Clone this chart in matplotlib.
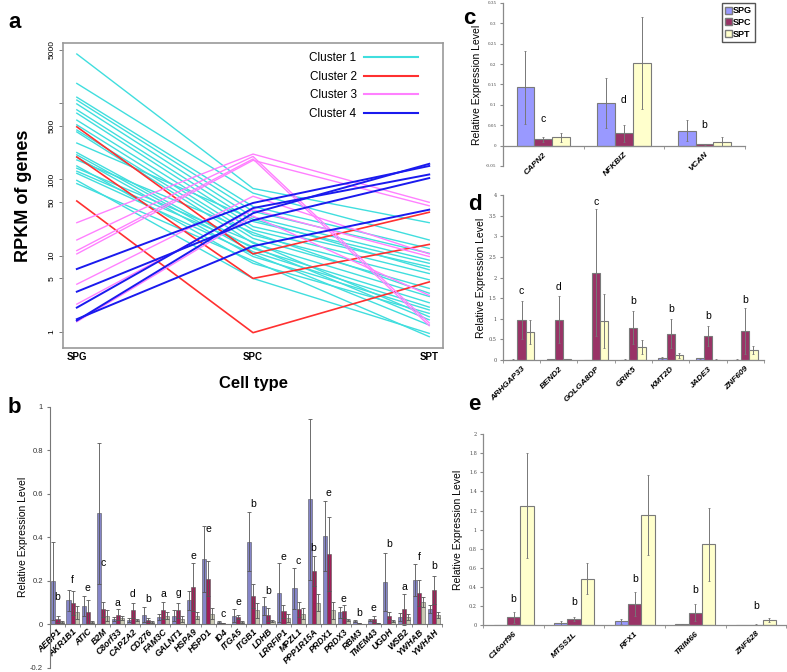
import numpy as np
import matplotlib
matplotlib.use("Agg")
import matplotlib.pyplot as plt
from matplotlib.lines import Line2D
from matplotlib.patches import Patch
from matplotlib.ticker import NullLocator

plt.rcParams['font.family'] = ['Liberation Sans', 'DejaVu Sans']

# ---- panel a: RPKM per cluster (SPG, SPC, SPT) ----
cell_types = ['SPG', 'SPC', 'SPT']
c1_spg = [4430, 1820, 1200, 1100, 980, 820, 740, 600, 520, 445, 420, 300, 225, 210, 195, 180, 150, 140, 128, 120, 97, 88]
c1_spc = [76, 66, 44, 38, 32, 28, 24, 21.6, 18.6, 16.8, 14.5, 30, 12.4, 11.2, 9.7, 20, 7.9, 15, 13, 10.5, 5.0, 8.5]
c1_spt = [27, 16, 12.4, 10.7, 8.7, 7.9, 7.1, 5.8, 4.8, 3.7, 2.9, 6.5, 2.4, 2.1, 1.93, 3.2, 1.74, 1.57, 1.43, 1.22, 0.95, 0.86]
c2_spg = [490, 197, 52]
c2_spc = [10.5, 5.0, 0.97]
c2_spt = [37, 14, 4.5]
c3_spg = [27, 16, 11.6, 10.5, 4.2, 2.3, 1.35]
c3_spc = [215, 200, 185, 178, 60, 40, 33]
c3_spt = [50, 1.3, 1.2, 45, 10.5, 9.7, 3.0]
c4_spg = [6.65, 3.35, 2.07, 1.40, 1.46]
c4_spc = [49, 29, 42, 36, 13.3]
c4_spt = [150, 104, 116, 160, 40]

# ---- panel b ----
genes_b = ['AEBP1', 'AKR1B1', 'ATIC', 'B2M', 'C8orf33', 'CAPZA2', 'CD276', 'FAM3C', 'GALNT1',
           'HSPA9', 'HSPD1', 'ID4', 'ITGA5', 'ITGB1', 'LDHB', 'LRRFIP1', 'MPZL1', 'PPP1R15A',
           'PRDX1', 'PRDX3', 'RBM3', 'TMEM43', 'UGDH', 'WSB2', 'YWHAB', 'YWHAH']
spg_b = [0.20, 0.11, 0.085, 0.51, 0.025, 0.02, 0.045, 0.035, 0.04, 0.11, 0.30, 0.01, 0.04, 0.38,
         0.085, 0.145, 0.165, 0.575, 0.405, 0.055, 0.015, 0.02, 0.195, 0.035, 0.204, 0.07]
spg_b_err = [0.18, 0.05, 0.045, 0.325, 0.01, 0.01, 0.035, 0.015, 0.025, 0.045, 0.15, 0.004, 0.03, 0.135,
             0.04, 0.135, 0.095, 0.37, 0.16, 0.025, 0.005, 0.005, 0.135, 0.018, 0.073, 0.018]
spc_b = [0.025, 0.10, 0.055, 0.07, 0.045, 0.065, 0.02, 0.065, 0.065, 0.17, 0.21, 0.005, 0.035, 0.13,
         0.045, 0.06, 0.07, 0.245, 0.325, 0.06, 0.005, 0.025, 0.04, 0.069, 0.145, 0.158]
spc_b_err = [0.015, 0.055, 0.055, 0.035, 0.025, 0.035, 0.01, 0.04, 0.035, 0.11, 0.08, 0.002, 0.01, 0.055,
             0.03, 0.03, 0.035, 0.07, 0.17, 0.03, 0.002, 0.015, 0.015, 0.07, 0.059, 0.064]
spt_b = [0.01, 0.055, 0.012, 0.04, 0.03, 0.02, 0.01, 0.04, 0.025, 0.04, 0.05, 0.003, 0.01, 0.065,
         0.015, 0.03, 0.05, 0.10, 0.065, 0.02, 0.002, 0.005, 0.015, 0.035, 0.104, 0.043]
spt_b_err = [0.005, 0.03, 0.005, 0.025, 0.01, 0.005, 0.004, 0.015, 0.015, 0.015, 0.025, 0.001, 0.004, 0.035,
             0.005, 0.02, 0.025, 0.04, 0.04, 0.005, 0.001, 0.002, 0.005, 0.015, 0.023, 0.015]
letters_b = ['b', 'f', 'e', 'c', 'a', 'd', 'b', 'a', 'g', 'e', 'e', 'c', 'e', 'b', 'b', 'e', 'c', 'b',
             'e', 'e', 'b', 'e', 'b', 'a', 'f', 'b']
letter_y_b = [0.127, 0.204, 0.168, 0.283, 0.10, 0.138, 0.116, 0.142, 0.145, 0.314, 0.436, 0.05, 0.103,
              0.551, 0.153, 0.308, 0.291, 0.352, 0.605, 0.118, 0.054, 0.074, 0.368, 0.17, 0.31, 0.27]

# ---- panel c ----
genes_c = ['CAPN2', 'NFKBIZ', 'VCAN']
spg_c = [0.143, 0.105, 0.037]
spg_c_err = [0.09, 0.062, 0.025]
spc_c = [0.015, 0.03, 0.003]
spc_c_err = [0.005, 0.021, 0.001]
spt_c = [0.02, 0.203, 0.01]
spt_c_err = [0.01, 0.112, 0.012]
letters_c = ['c', 'd', 'b']
letter_y_c = [0.065, 0.112, 0.05]

# ---- panel d ----
genes_d = ['ARHGAP33', 'BEND2', 'GOLGA8DP', 'GRIK5', 'KMT2D', 'JADE3', 'ZNF609']
spg_d = [0.01, 0.02, 0.005, 0.01, 0.05, 0.04, 0.01]
spg_d_err = [0.005, 0.01, 0.003, 0.005, 0.03, 0.02, 0.005]
spc_d = [0.97, 0.97, 2.12, 0.78, 0.64, 0.58, 0.70]
spc_d_err = [0.47, 0.57, 1.55, 0.40, 0.35, 0.24, 0.56]
spt_d = [0.67, 0.02, 0.94, 0.31, 0.11, 0.01, 0.25]
spt_d_err = [0.29, 0.01, 0.66, 0.17, 0.06, 0.005, 0.10]
letters_d = ['c', 'd', 'c', 'b', 'b', 'b', 'b']
letter_y_d = [1.68, 1.78, 3.84, 1.44, 1.23, 1.07, 1.46]

# ---- panel e ----
genes_e = ['C16orf96', 'MTSS1L', 'RFX1', 'TRIM66', 'ZNF628']
spg_e = [0.003, 0.025, 0.04, 0.01, 0.0]
spg_e_err = [0.002, 0.02, 0.025, 0.005, 0.0]
spc_e = [0.08, 0.06, 0.22, 0.13, 0.005]
spc_e_err = [0.06, 0.02, 0.13, 0.09, 0.002]
spt_e = [1.25, 0.485, 1.15, 0.845, 0.05]
spt_e_err = [0.55, 0.16, 0.42, 0.38, 0.02]
letters_e = ['b', 'b', 'b', 'b', 'b']
letter_y_e = [0.27, 0.245, 0.48, 0.37, 0.2]

SPG_COL, SPC_COL, SPT_COL = '#9999ff', '#993366', '#ffffcc'

fig = plt.figure(figsize=(7.87, 6.72), dpi=100)

# ================= panel a =================
ax = fig.add_axes([0.0797, 0.4817, 0.4836, 0.4548])
xs = [1, 2, 3]
clusters = [
    (c1_spg, c1_spc, c1_spt, '#40dede', 1.0),
    (c2_spg, c2_spc, c2_spt, '#ff3030', 1.2),
    (c3_spg, c3_spc, c3_spt, '#ff80ff', 1.0),
    (c4_spg, c4_spc, c4_spt, '#1a1aee', 1.4),
]
for spg, spc, spt, col, lw in clusters:
    for a, b, c in zip(spg, spc, spt):
        ax.plot(xs, [a, b, c], color=col, lw=lw)
ax.set_yscale('log')
ax.set_ylim(0.605, 6240)
ax.set_xlim(0.92, 3.08)
ax.yaxis.set_minor_locator(NullLocator())
ax.set_yticks([1, 5, 10, 50, 100, 500, 1000, 5000])
ax.set_yticklabels(['1', '5', '10', '50', '100', '500', '', '5000'], rotation=90,
                   va='center', fontsize=6)
ax.tick_params(axis='y', length=3, width=0.6, color='#666666', pad=2)
ax.set_xticks(xs)
ax.set_xticklabels(cell_types, fontsize=7, fontweight='bold')
ax.tick_params(axis='x', length=0, pad=3)
for s in ax.spines.values():
    s.set_color('#999999')
    s.set_linewidth(1.2)
ax.set_ylabel('RPKM of genes', fontsize=13, fontweight='bold')
ax.yaxis.set_label_coords(-0.081, 0.5)
ax.set_xlabel('Cell type', fontsize=12, fontweight='bold')
ax.xaxis.set_label_coords(0.5, -0.091)
handles = [Line2D([], [], color=c[3], lw=1.5) for c in clusters]
ax.legend(handles, ['Cluster 1', 'Cluster 2', 'Cluster 3', 'Cluster 4'], loc='upper right',
          bbox_to_anchor=(0.955, 0.995), frameon=False, markerfirst=False, fontsize=8.5,
          handlelength=4.6, handletextpad=0.6, labelspacing=0.55, borderpad=0.2)

# ================= panel b =================
ax = fig.add_axes([0.0635, 0.006, 0.4977, 0.3888])
x = np.arange(len(genes_b))
w = 0.27
for off, vals, errs, col in [(-w, spg_b, spg_b_err, '#8585c8'),
                             (0, spc_b, spc_b_err, '#a01f58'),
                             (w, spt_b, spt_b_err, '#c8c8b2')]:
    ax.bar(x + off, vals, w, color=col, edgecolor='#555555', lw=0.4)
    ax.errorbar(x + off, vals, errs, fmt='none', ecolor='#555555', elinewidth=0.6,
                capsize=1.2, capthick=0.6)
for xi, l, ly in zip(x, letters_b, letter_y_b):
    ax.text(xi, ly, l, ha='center', va='center', fontsize=7.5)
ax.set_xlim(-0.5, len(genes_b) - 0.5)
ax.set_ylim(-0.2, 1.0)
ax.set_yticks(np.arange(-0.2, 1.01, 0.2))
ax.set_yticklabels(['%g' % round(v, 1) for v in np.arange(-0.2, 1.01, 0.2)], fontsize=5.5,
                   color='#333333')
ax.spines['bottom'].set_position(('data', 0))
ax.spines['top'].set_visible(False)
ax.spines['right'].set_visible(False)
for s in ('left', 'bottom'):
    ax.spines[s].set_color('#777777')
    ax.spines[s].set_linewidth(0.8)
ax.set_xticks(x)
ax.set_xticklabels(genes_b, rotation=45, ha='right', rotation_mode='anchor', fontsize=6.3,
                   fontweight='bold', fontstyle='italic')
ax.tick_params(axis='x', length=0, pad=2)
ax.set_xticks(np.arange(-0.5, len(genes_b), 1), minor=True)
ax.tick_params(axis='x', which='minor', length=2, color='#777777')
ax.tick_params(axis='y', length=2, color='#777777', pad=3)
ax.set_ylabel('Relative Expression Level', fontsize=7.5)
ax.yaxis.set_label_coords(-0.056, 0.5)


def bar_panel(rect, genes, spg, spg_err, spc, spc_err, spt, spt_err, letters, letter_y,
              ylim, yticks, label_x, zero_axis=False, tick_size=3.5, w=0.22):
    ax = fig.add_axes(rect)
    x = np.arange(len(genes))
    for off, vals, errs, col in [(-w, spg, spg_err, SPG_COL), (0, spc, spc_err, SPC_COL),
                                 (w, spt, spt_err, SPT_COL)]:
        ax.bar(x + off, vals, w, color=col, edgecolor='#7a7a7a', lw=0.8)
        ax.errorbar(x + off, vals, errs, fmt='none', ecolor='#777777', elinewidth=0.7,
                    capsize=1.0, capthick=0.6)
    for xi, l, ly in zip(x, letters, letter_y):
        ax.text(xi, ly, l, ha='center', va='center', fontsize=7.5)
    ax.set_xlim(-0.5, len(genes) - 0.5)
    ax.set_ylim(*ylim)
    ax.set_yticks(yticks)
    ax.set_yticklabels(['%g' % round(v, 2) for v in yticks], fontsize=tick_size,
                       family='DejaVu Serif', color='#444444')
    ax.spines['top'].set_visible(False)
    ax.spines['right'].set_visible(False)
    if zero_axis:
        ax.spines['bottom'].set_position(('data', 0))
    for s in ('left', 'bottom'):
        ax.spines[s].set_color('#8a8a8a')
        ax.spines[s].set_linewidth(0.9)
    ax.set_xticks(x)
    ax.set_xticklabels(genes, rotation=45, ha='right', rotation_mode='anchor', fontsize=6,
                       fontweight='bold', fontstyle='italic')
    ax.tick_params(axis='x', length=0, pad=4)
    ax.set_xticks(np.arange(-0.5, len(genes), 1), minor=True)
    ax.tick_params(axis='x', which='minor', length=2, color='#8a8a8a')
    ax.tick_params(axis='y', length=2, color='#8a8a8a', pad=2.5)
    ax.set_ylabel('Relative Expression Level', fontsize=7.5)
    ax.yaxis.set_label_coords(label_x, 0.5)
    return ax


ax_c = bar_panel([0.639, 0.753, 0.3075, 0.2426], genes_c, spg_c, spg_c_err, spc_c, spc_c_err,
                 spt_c, spt_c_err, letters_c, letter_y_c, (-0.05, 0.35),
                 np.arange(-0.05, 0.351, 0.05), -0.085, zero_axis=True, tick_size=3)
ax_c.legend([Patch(facecolor=c, edgecolor='#7a7a7a') for c in (SPG_COL, SPC_COL, SPT_COL)],
            ['SPG', 'SPC', 'SPT'], loc='upper right', bbox_to_anchor=(1.05, 1.01),
            prop={'weight': 'bold', 'size': 6.5}, handlelength=0.7, handleheight=0.8,
            handletextpad=0.15, labelspacing=0.3, borderpad=0.35, borderaxespad=0.2,
            fancybox=False, edgecolor='#555555', framealpha=1)
bar_panel([0.639, 0.4643, 0.3316, 0.2455], genes_d, spg_d, spg_d_err, spc_d, spc_d_err,
          spt_d, spt_d_err, letters_d, letter_y_d, (0, 4), np.arange(0, 4.01, 0.5), -0.065)
bar_panel([0.614, 0.0699, 0.385, 0.284], genes_e, spg_e, spg_e_err, spc_e, spc_e_err,
          spt_e, spt_e_err, letters_e, letter_y_e, (0, 2), np.arange(0, 2.01, 0.2), -0.066)

for lab, px, py in [('a', 8, 22), ('b', 8, 408), ('c', 463, 18), ('d', 468, 205), ('e', 468, 405)]:
    fig.text(px / 787, 1 - py / 672, lab, fontsize=16, fontweight='bold', ha='left', va='center')

fig.savefig('out.png', dpi=100)
